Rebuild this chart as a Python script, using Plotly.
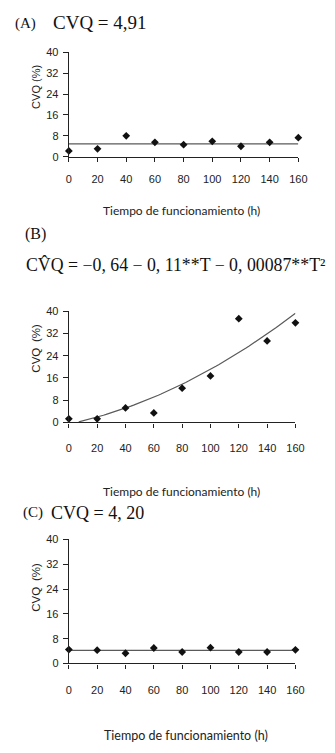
import numpy as np
import plotly.graph_objects as go

# ---- data ----
hours = [0, 20, 40, 60, 80, 100, 120, 140, 160]
cvq_a = [2.2, 3.0, 8.0, 5.5, 4.6, 5.9, 4.0, 5.5, 7.3]
cvq_b = [1.3, 1.3, 5.2, 3.4, 12.3, 16.7, 37.3, 29.3, 35.8]
cvq_c = [4.5, 4.3, 3.3, 5.0, 3.7, 5.1, 3.7, 3.7, 4.4]
mean_a = 4.91
mean_c = 4.20
coef_b = [-0.64, 0.11, 0.00087]  # fitted quadratic b0 + b1*T + b2*T^2
y_ticks = [0, 8, 16, 24, 32, 40]
x_ticks = [0, 20, 40, 60, 80, 100, 120, 140, 160]
x_title = "Tiempo de funcionamiento (h)"
y_title = "CVQ (%)"

W, H = 335, 753
OX, OY = 8, 8  # page body margin offset

def fy(px):
    return 1 - (px - OY) / H

def fx(px):
    return (px - OX) / W

# fitted curve for B
t_fit = np.linspace(7, 160, 80)
y_fit = coef_b[0] + coef_b[1] * t_fit + coef_b[2] * t_fit ** 2

fig = go.Figure()
mk = dict(symbol="diamond", size=6, color="#111")
line_col = "#5a5a5a"

# A
fig.add_trace(go.Scatter(x=[hours[0], hours[-1]], y=[mean_a, mean_a], mode="lines",
                         line=dict(color=line_col, width=1.2), xaxis="x", yaxis="y",
                         cliponaxis=False, showlegend=False, hoverinfo="skip"))
fig.add_trace(go.Scatter(x=hours, y=cvq_a, mode="markers", marker=mk, xaxis="x", yaxis="y",
                         cliponaxis=False, showlegend=False))
# B
fig.add_trace(go.Scatter(x=t_fit, y=y_fit, mode="lines",
                         line=dict(color=line_col, width=1.2), xaxis="x2", yaxis="y2",
                         cliponaxis=False, showlegend=False, hoverinfo="skip"))
fig.add_trace(go.Scatter(x=hours, y=cvq_b, mode="markers", marker=mk, xaxis="x2", yaxis="y2",
                         cliponaxis=False, showlegend=False))
# C
fig.add_trace(go.Scatter(x=[hours[0], hours[-1]], y=[mean_c, mean_c], mode="lines",
                         line=dict(color=line_col, width=1.2), xaxis="x3", yaxis="y3",
                         cliponaxis=False, showlegend=False, hoverinfo="skip"))
fig.add_trace(go.Scatter(x=hours, y=cvq_c, mode="markers", marker=mk, xaxis="x3", yaxis="y3",
                         cliponaxis=False, showlegend=False))

tick_font = dict(family="Liberation Sans, Arial", size=11, color="#222")

def xax(dom, anchor, standoff):
    return dict(domain=dom, anchor=anchor, range=[0, 160], tickvals=x_ticks,
                showgrid=False, zeroline=False, showline=True, linecolor="#222", linewidth=1.3,
                ticks="outside", ticklen=4, tickwidth=1.2, tickcolor="#222",
                tickfont=tick_font, ticklabelstandoff=standoff, fixedrange=True)

def yax(dom, anchor):
    return dict(domain=dom, anchor=anchor, range=[0, 40], tickvals=y_ticks,
                showgrid=False, zeroline=False, showline=True, linecolor="#222", linewidth=1.3,
                ticks="outside", ticklen=5, tickwidth=1.2, tickcolor="#222",
                tickfont=tick_font, ticklabelstandoff=2, fixedrange=True)

fig.update_layout(
    width=W, height=H,
    margin=dict(l=0, r=0, t=0, b=0),
    paper_bgcolor="white", plot_bgcolor="white",
    xaxis=xax([fx(68), fx(306)], "y", 8),
    yaxis=yax([fy(153), fy(47)], "x"),
    xaxis2=xax([fx(68), fx(303)], "y2", 11),
    yaxis2=yax([fy(423), fy(310)], "x2"),
    xaxis3=xax([fx(68), fx(303)], "y3", 12),
    yaxis3=yax([fy(668), fy(542)], "x3"),
)

serif = "Liberation Serif, Times New Roman, serif"
ytf = dict(family="Liberation Sans, Arial", size=11, color="#222")
xtf = dict(family="Lato, Open Sans, sans-serif", size=12, color="#222")

anns = [
    # titles
    dict(x=fx(10), y=fy(18), text="(A)", font=dict(family=serif, size=15, color="#111"), xanchor="left"),
    dict(x=fx(49), y=fy(17), text="CVQ = 4,91", font=dict(family=serif, size=19, color="#111"), xanchor="left"),
    dict(x=fx(20), y=fy(232), text="(B)", font=dict(family=serif, size=16, color="#111"), xanchor="left"),
    dict(x=fx(22), y=fy(263), text="CV\u0302Q = \u22120, 64 \u2212 0, 11**T \u2212 0, 00087**T\u00b2",
         font=dict(family=serif, size=17.8, color="#111"), xanchor="left"),
    dict(x=fx(18), y=fy(515), text="(C)", font=dict(family=serif, size=15, color="#111"), xanchor="left"),
    dict(x=fx(47), y=fy(515), text="CVQ = 4, 20", font=dict(family=serif, size=18, color="#111"), xanchor="left"),
    # y titles
    dict(x=fx(34), y=fy(82), text=y_title, textangle=-90, font=ytf),
    dict(x=fx(34), y=fy(348), text="CVQ\u2002(%)", textangle=-90, font=dict(ytf, size=11.5)),
    dict(x=fx(34), y=fy(591), text="CVQ\u2002(%)", textangle=-90, font=dict(ytf, size=11.5)),
    # x titles
    dict(x=fx(185), y=fy(208), text=x_title, font=xtf),
    dict(x=fx(185), y=fy(493), text=x_title, font=xtf),
    dict(x=fx(190), y=fy(741), text=x_title, font=dict(xtf, size=12.5)),
]
for a in anns:
    a.update(xref="paper", yref="paper", showarrow=False, yanchor="middle")
    a.setdefault("xanchor", "center")
fig.update_layout(annotations=anns)

fig.write_html("out.html")
